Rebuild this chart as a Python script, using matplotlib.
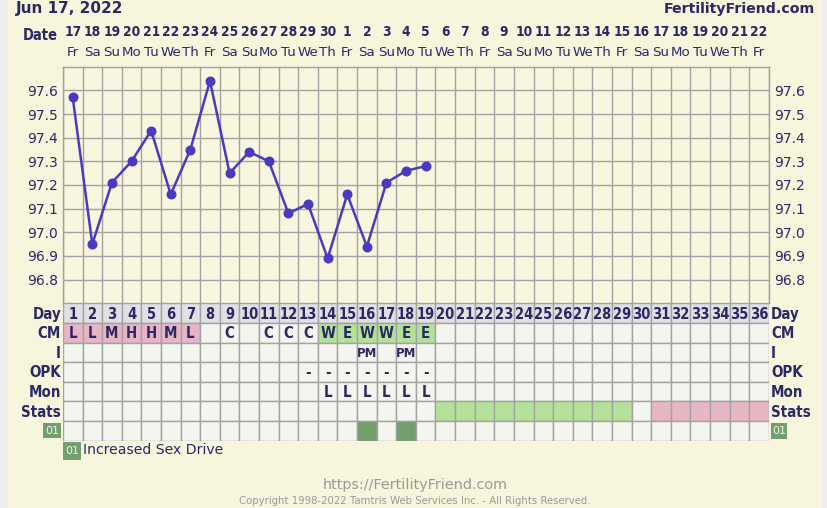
import os
import numpy as np
import matplotlib
matplotlib.use("Agg")
import matplotlib.pyplot as plt
from matplotlib.patches import Rectangle
from matplotlib.transforms import blended_transform_factory as blend
from matplotlib import font_manager
from matplotlib.font_manager import FontProperties

# ---------------- data ----------------
cycle_days = list(range(1, 37))
date_numbers = list(range(17, 31)) + list(range(1, 23))
weekday_names = ["Fr", "Sa", "Su", "Mo", "Tu", "We", "Th"]
weekdays = [weekday_names[i % 7] for i in range(36)]
temp_days = list(range(1, 20))
temperatures = [97.57, 96.95, 97.21, 97.30, 97.43, 97.16, 97.35, 97.64, 97.25,
                97.34, 97.30, 97.08, 97.12, 96.89, 97.16, 96.94, 97.21, 97.26, 97.28]
temp_ticks = [96.8, 96.9, 97.0, 97.1, 97.2, 97.3, 97.4, 97.5, 97.6]
temp_range = (96.7, 97.7)
cm_codes = ["L", "L", "M", "H", "H", "M", "L", "", "C", "", "C", "C", "C",
            "W", "E", "W", "W", "E", "E"] + [""] * 17
i_codes = [""] * 15 + ["PM", "", "PM"] + [""] * 18
opk_codes = [""] * 12 + ["-"] * 7 + [""] * 17
mon_codes = [""] * 13 + ["L"] * 6 + [""] * 17
stats_codes = [""] * 19 + ["fertile"] * 10 + [""] + ["period"] * 6
symptom01_days = [16, 18]
row_labels = ["Day", "CM", "I", "OPK", "Mon", "Stats"]
legend_code = "01"
legend_text = "Increased Sex Drive"
chart_date = "Jun 17, 2022"
site = "FertilityFriend.com"

# ---------------- style ----------------
BG = "#F7F5DC"
PLOT_BG = "#F8F6DE"
CELL = "#F5F5EF"
DAYROW = "#E1E1E5"
GRID = "#A2A2A2"
PINK = "#E8B5C4"
GREEN = "#B4E197"
DKGREEN = "#739E6D"
NAVY = "#2B2866"
LINE = "#4A3AC2"
STRIP = "#EEEEEE"
FOOT = "#9A9A9A"

cond_path = None
for f in font_manager.fontManager.ttflist:
    if os.path.basename(f.fname) == "DejaVuSansCondensed-Bold.ttf":
        cond_path = f.fname
        break


def bfont(size):
    if cond_path:
        return FontProperties(fname=cond_path, size=size)
    return FontProperties(family="DejaVu Sans", weight="bold", size=size * 0.88)


W, H = 828, 508
L0, T0 = 62.9, 66.7
CW = 19.61
PH = 236.6

fig = plt.figure(figsize=(W / 100, H / 100), dpi=100, facecolor=BG)


def frac(l, t, w, h):
    return [l / W, (H - t - h) / H, w / W, h / H]


ov = fig.add_axes([0, 0, 1, 1], zorder=0)
ov.set_xlim(0, W)
ov.set_ylim(H, 0)
ov.axis("off")
ov.add_patch(Rectangle((0, 0), 8, H, fc=STRIP, ec="none"))
ov.add_patch(Rectangle((822, 0), 6, H, fc=STRIP, ec="none"))

# ---------------- temperature chart ----------------
ax = fig.add_axes(frac(L0, T0, 36 * CW, PH), zorder=2)
ax.set_facecolor(PLOT_BG)
ax.set_xlim(0.5, 36.5)
ax.set_ylim(*temp_range)
ax.set_xticks([])
ax.set_xticks(np.arange(0.5, 37, 1), minor=True)
ax.set_yticks(temp_ticks)
ax.set_yticklabels([f"{t:.1f}" for t in temp_ticks])
ax.tick_params(axis="y", which="both", length=0, labelleft=True, labelright=True,
               labelsize=10, labelcolor=NAVY, pad=3.5)
ax.tick_params(axis="x", which="both", length=0)
ax.grid(True, which="minor", axis="x", color=GRID, lw=1.0)
ax.grid(True, which="major", axis="y", color=GRID, lw=1.0)
for s in ax.spines.values():
    s.set_color(GRID)
    s.set_linewidth(1.0)
ax.plot(temp_days, temperatures, color=LINE, lw=1.8, marker="o", ms=6.2,
        zorder=5, clip_on=False)

# ---------------- data table ----------------
tb = fig.add_axes(frac(L0, T0 + PH, 36 * CW, 7 * CW), zorder=2)
tb.set_xlim(0.5, 36.5)
tb.set_ylim(7, 0)
tb.axis("off")


def cell(d, r, fc):
    tb.add_patch(Rectangle((d - 0.5, r), 1, 1, fc=fc, ec=GRID, lw=1.0))


for i, d in enumerate(cycle_days):
    cell(d, 0, DAYROW)
    tb.text(d, 0.55, str(d), ha="center", va="center", color=NAVY,
            fontproperties=bfont(10.5))
    cm = cm_codes[i]
    cell(d, 1, PINK if cm in ("L", "M", "H") else GREEN if cm in ("W", "E") else CELL)
    cell(d, 2, CELL)
    cell(d, 3, CELL)
    cell(d, 4, CELL)
    st = stats_codes[i]
    cell(d, 5, GREEN if st == "fertile" else PINK if st == "period" else CELL)
    cell(d, 6, DKGREEN if d in symptom01_days else CELL)
    for r, codes in ((1, cm_codes), (2, i_codes), (3, opk_codes), (4, mon_codes)):
        if codes[i]:
            size = 9.4 if len(codes[i]) > 1 else 10.8
            tb.text(d, r + 0.55, codes[i], ha="center", va="center", color=NAVY,
                    fontproperties=bfont(size))

lab_tr = blend(ov.transData, tb.transData)
for r, lab in enumerate(row_labels):
    tb.text(61, r + 0.55, lab, ha="right", va="center", transform=lab_tr,
            color=NAVY, fontproperties=bfont(10.8))
    tb.text(771, r + 0.55, lab, ha="left", va="center", transform=lab_tr,
            color=NAVY, fontproperties=bfont(10.8))


def code_box(x, y, w, h):
    ov.add_patch(Rectangle((x, y), w, h, fc=DKGREEN, ec="none"))
    ov.text(x + w / 2, y + h / 2 + 0.5, legend_code, ha="center", va="center",
            fontsize=8, color="#F2F2EA")


code_box(43.3, 422.5, 17.7, 15.5)
code_box(770.7, 422.5, 16.3, 16)
code_box(62.7, 442, 18.3, 18)
ov.text(83.5, 450, legend_text, ha="left", va="center", fontsize=10.1, color=NAVY)

# ---------------- header ----------------
hdr_tr = blend(ax.transData, ov.transData)
for d, num, wd in zip(cycle_days, date_numbers, weekdays):
    ov.text(d, 32, str(num), ha="center", va="center", transform=hdr_tr,
            color=NAVY, fontproperties=bfont(9.8))
    ov.text(d, 52, wd, ha="center", va="center", transform=hdr_tr,
            fontsize=9.6, color=NAVY)
ov.text(57.5, 35.5, "Date", ha="right", va="center", color=NAVY,
        fontproperties=bfont(10.5))
ov.text(16, 13, chart_date, ha="left", va="baseline", fontsize=11,
        fontweight="bold", color=NAVY)
ov.text(815, 13, site, ha="right", va="baseline", fontsize=10.2,
        fontweight="bold", color=NAVY)

# ---------------- footer ----------------
ov.text(415.5, 485, "https://" + site, ha="center", va="center", fontsize=10.4,
        color=FOOT)
ov.text(414.5, 501.5, "Copyright 1998-2022 Tamtris Web Services Inc. - All Rights Reserved.",
        ha="center", va="center", fontsize=7.3, color=FOOT)

fig.savefig("out.png", dpi=100, facecolor=BG)
